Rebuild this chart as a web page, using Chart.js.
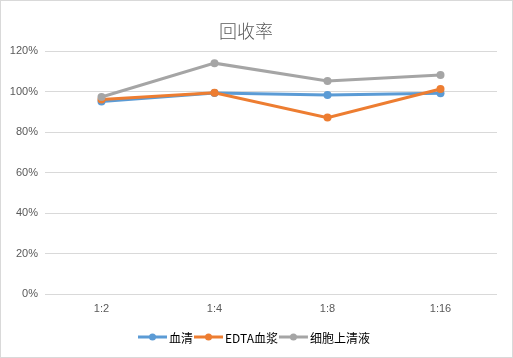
<!DOCTYPE html>
<html><head><meta charset="utf-8">
<script src="https://cdn.jsdelivr.net/npm/chart.js@4"></script>
<style>
html,body{margin:0;padding:0;background:#fff;}
#wrap{width:513px;height:358px;box-sizing:border-box;border:1px solid #d9d9d9;}
canvas{display:block;}
</style></head><body>
<div id="wrap"><canvas id="c" width="511" height="356"></canvas></div>
<script>
const titleText = "回收率";
const categories = ["1:2", "1:4", "1:8", "1:16"];
const seriesNames = ["血清", "EDTA血浆", "细胞上清液"];
const serum = [0.951, 0.993, 0.983, 0.991];
const edta = [0.960, 0.994, 0.871, 1.012];
const supernatant = [0.973, 1.140, 1.052, 1.081];
const colors = ["#5b9bd5", "#ed7d31", "#a5a5a5"];
const yTicks = [0, 0.2, 0.4, 0.6, 0.8, 1.0, 1.2];

const FONT = "'Liberation Sans', 'Noto Sans CJK SC', sans-serif";
const CJK = "'Noto Sans CJK SC', sans-serif";

const overlay = {
  id: 'overlay',
  afterDraw(chart) {
    const ctx = chart.ctx;
    ctx.save();
    ctx.fillStyle = '#595959';
    ctx.font = "300 18px " + CJK;
    ctx.textAlign = 'center';
    ctx.textBaseline = 'middle';
    ctx.fillText(titleText, 245, 30);
    // legend
    ctx.font = "12px " + CJK;
    ctx.textAlign = 'left';
    const lineW = 29, gap = 3, itemGap = 0;
    const widths = seriesNames.map(n => ctx.measureText(n).width);
    let total = 0;
    widths.forEach(w => total += lineW + gap + w);
    let x = 137;
    const y = 336;
    seriesNames.forEach((n, i) => {
      ctx.strokeStyle = colors[i];
      ctx.lineWidth = 3;
      ctx.beginPath(); ctx.moveTo(x, y); ctx.lineTo(x + lineW, y); ctx.stroke();
      ctx.fillStyle = colors[i];
      ctx.beginPath(); ctx.arc(x + lineW / 2, y, 3.5, 0, Math.PI * 2); ctx.fill();
      ctx.fillStyle = '#000';
      ctx.fillText(n, x + lineW + gap - 1, y + 1);
      x += lineW + gap + widths[i] + itemGap;
    });
    ctx.restore();
  }
};

const mk = (label, data, i, order) => ({
  label, data, borderColor: colors[i], backgroundColor: colors[i],
  borderWidth: 3, pointRadius: 4, pointHoverRadius: 4, pointBorderWidth: 0,
  tension: 0, order
});

new Chart(document.getElementById('c'), {
  type: 'line',
  data: {
    labels: categories,
    datasets: [
      mk(seriesNames[0], serum, 0, 3),
      mk(seriesNames[1], edta, 1, 2),
      mk(seriesNames[2], supernatant, 2, 1)
    ]
  },
  options: {
    responsive: false,
    animation: false,
    layout: { padding: { top: 50, right: 15, left: 0, bottom: 0 } },
    plugins: { legend: { display: false }, title: { display: false }, tooltip: { enabled: false } },
    scales: {
      x: {
        offset: true,
        grid: { display: false, drawTicks: false },
        border: { display: false },
        ticks: { color: '#595959', font: { family: FONT, size: 11 }, padding: 8 },
        afterFit(s) { s.height = 63; }
      },
      y: {
        min: 0, max: 1.2,
        afterBuildTicks(s) { s.ticks = yTicks.map(v => ({ value: v })); },
        grid: { color: '#d9d9d9', lineWidth: 1, drawTicks: false },
        border: { display: false },
        ticks: { color: '#595959', font: { family: FONT, size: 11 }, padding: 7,
          callback: v => Math.round(v * 100) + '%' },
        afterFit(s) { s.width = 44; }
      }
    }
  },
  plugins: [overlay]
});
</script></body></html>
